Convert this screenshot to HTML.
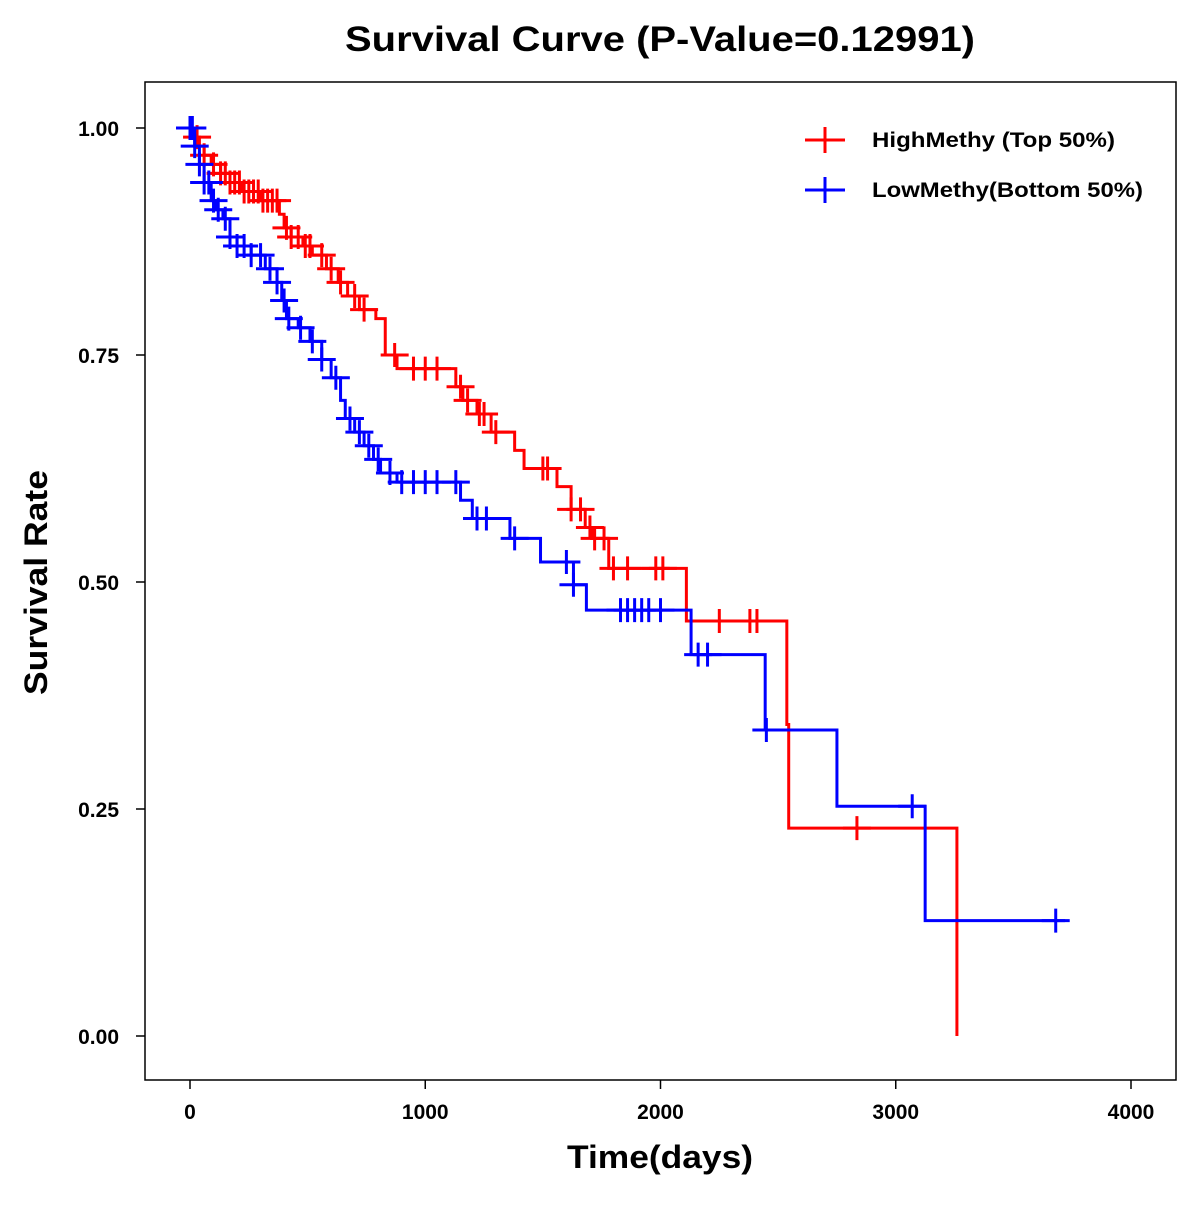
<!DOCTYPE html>
<html><head><meta charset="utf-8"><style>
body{margin:0;background:#fff;}
svg text{font-family:"Liberation Sans",Arial,sans-serif;font-weight:bold;fill:#000;}
</style></head><body>
<svg id="chart" width="1200" height="1200" viewBox="0 0 1200 1200" xmlns="http://www.w3.org/2000/svg">
<rect width="1200" height="1200" fill="#fff"/>
<text x="345" y="51" font-size="35" textLength="630" lengthAdjust="spacingAndGlyphs">Survival Curve (P-Value=0.12991)</text>
<rect x="145" y="82" width="1031" height="998" fill="none" stroke="#000" stroke-width="1.5"/>
<g id="xaxis"></g>
<g id="yaxis"></g>
<text x="567" y="1168" font-size="32" textLength="186" lengthAdjust="spacingAndGlyphs">Time(days)</text>
<text transform="translate(47,695) rotate(-90)" font-size="32" textLength="225" lengthAdjust="spacingAndGlyphs">Survival Rate</text>
<g id="series"></g>
<g>
<g>
<line x1="805" y1="140" x2="845" y2="140" stroke="#f00" stroke-width="3"/><line x1="825" y1="127" x2="825" y2="153" stroke="#f00" stroke-width="3"/>
<text x="872" y="147" font-size="21" textLength="243" lengthAdjust="spacingAndGlyphs">HighMethy (Top 50%)</text></g>
<g>
<line x1="805" y1="190" x2="845" y2="190" stroke="#00f" stroke-width="3"/><line x1="825" y1="177" x2="825" y2="203" stroke="#00f" stroke-width="3"/>
<text x="872" y="197" font-size="21" textLength="271" lengthAdjust="spacingAndGlyphs">LowMethy(Bottom 50%)</text></g>
</g>
</svg>
<script>
const xTicks=[0,1000,2000,3000,4000];
const yTicks=[0,0.25,0.5,0.75,1.0];
const yTickLabels=["0.00","0.25","0.50","0.75","1.00"];
const highTimes=[0,20,40,60,90,130,170,220,300,380,400,430,480,520,580,630,670,720,790,830,880,1130,1160,1220,1280,1380,1420,1560,1620,1680,1710,1780,2110,2537,2545,3260];
const highSurv=[1.0,0.99,0.98,0.97,0.96,0.95,0.94,0.93,0.92,0.905,0.89,0.88,0.87,0.86,0.845,0.83,0.815,0.80,0.79,0.75,0.735,0.715,0.70,0.685,0.665,0.645,0.625,0.605,0.58,0.56,0.548,0.515,0.457,0.343,0.229,0.0];
const highEnd=3260;
const highCensor=[5,30,60,100,130,150,170,190,210,230,250,270,290,310,330,350,370,410,430,460,490,510,560,600,640,700,740,870,950,1000,1050,1150,1180,1230,1250,1300,1500,1520,1620,1660,1700,1720,1760,1800,1860,1980,2010,2250,2380,2410,2835];
const lowTimes=[0,20,40,60,90,110,140,170,200,260,320,370,390,410,460,510,560,600,640,660,700,740,780,810,880,1150,1200,1360,1490,1630,1685,2130,2445,2750,3125];
const lowSurv=[1.0,0.98,0.96,0.94,0.92,0.91,0.90,0.88,0.87,0.86,0.845,0.83,0.81,0.79,0.78,0.765,0.745,0.725,0.70,0.68,0.665,0.65,0.635,0.62,0.61,0.59,0.57,0.548,0.522,0.497,0.469,0.42,0.337,0.253,0.127];
const lowEnd=3720;
const lowCensor=[0,10,20,40,60,80,100,120,150,170,200,230,260,300,340,370,400,420,470,520,560,620,680,720,760,800,850,900,950,1000,1050,1130,1220,1260,1380,1600,1630,1830,1860,1890,1920,1950,2000,2160,2200,2450,3070,3680];

const NS="http://www.w3.org/2000/svg";
const X=d=>190+d*0.23525;
const Y=s=>1036-s*908;
function mk(tag,attrs,parent){const e=document.createElementNS(NS,tag);for(const k in attrs)e.setAttribute(k,attrs[k]);parent.appendChild(e);return e;}
const xa=document.getElementById('xaxis'),ya=document.getElementById('yaxis'),sg=document.getElementById('series');
xTicks.forEach(t=>{
 const l=mk('line',{x1:X(t),x2:X(t),y1:1080,y2:1089,stroke:'#000','stroke-width':1.5},xa);
 
 
 const tx=mk('text',{x:X(t),y:1119,'font-size':21,'text-anchor':'middle'},xa);tx.textContent=t;
 
 
});
yTicks.forEach((t,i)=>{
 const l=mk('line',{x1:136,x2:145,y1:Y(t),y2:Y(t),stroke:'#000','stroke-width':1.5},ya);
 
 
 const tx=mk('text',{x:119,y:Y(t)+8,'font-size':21,'text-anchor':'end'},ya);tx.textContent=yTickLabels[i];
 
 
});
function survAt(times,surv,t){let s=surv[0];for(let i=0;i<times.length;i++){if(times[i]<=t)s=surv[i];}return s;}
function draw(times,surv,end,cens,color,name){
 let d='M'+X(times[0])+','+Y(surv[0]);
 for(let i=1;i<times.length;i++){d+=' H'+X(times[i])+' V'+Y(surv[i]);}
 if(end>times[times.length-1])d+=' H'+X(end);
 const p=mk('path',{d:d,fill:'none',stroke:color,'stroke-width':3},sg);
 
 
 cens.forEach(c=>{
  const s=survAt(times,surv,c),cx=X(c),cy=Y(s);
  const g=mk('path',{d:'M'+(cx-14)+','+cy+' H'+(cx+14)+' M'+cx+','+(cy-12)+' V'+(cy+12),stroke:color,'stroke-width':3,fill:'none'},sg);
  
  
 });
}
draw(highTimes,highSurv,highEnd,highCensor,'#f00','high-methy');
draw(lowTimes,lowSurv,lowEnd,lowCensor,'#00f','low-methy');
</script>
</body></html>
